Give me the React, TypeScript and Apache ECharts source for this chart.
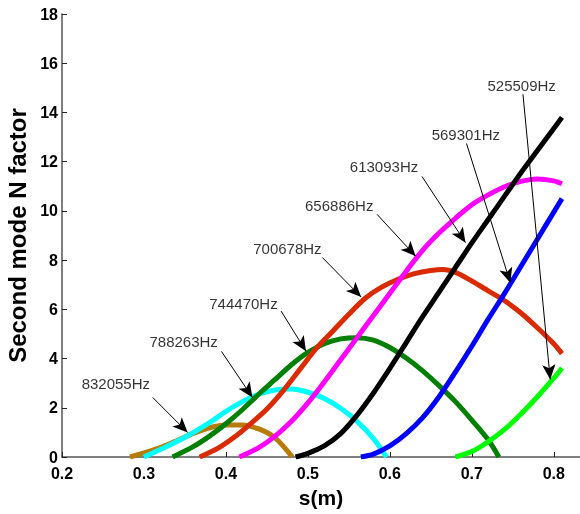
import React, { useEffect, useRef } from "react";
import * as echarts from "echarts";

// s (m), N factor pairs
const f832055: number[][] = [[0.283,0],[0.30,0.17],[0.32,0.38],[0.34,0.66],[0.36,0.96],[0.38,1.19],[0.40,1.3],[0.42,1.3],[0.44,1.14],[0.46,0.78],[0.481,0]];
const f788263: number[][] = [[0.30,0],[0.32,0.3],[0.35,0.8],[0.38,1.4],[0.40,1.85],[0.42,2.25],[0.44,2.55],[0.46,2.72],[0.48,2.76],[0.50,2.63],[0.52,2.38],[0.54,1.98],[0.56,1.45],[0.58,0.75],[0.596,0]];
const f744470: number[][] = [[0.335,0],[0.36,0.42],[0.38,0.85],[0.40,1.35],[0.42,1.92],[0.44,2.55],[0.46,3.15],[0.48,3.75],[0.50,4.25],[0.52,4.6],[0.54,4.8],[0.56,4.85],[0.58,4.75],[0.60,4.45],[0.62,4.02],[0.64,3.5],[0.66,2.9],[0.68,2.25],[0.70,1.5],[0.72,0.7],[0.733,0]];
const f700678: number[][] = [[0.368,0],[0.39,0.35],[0.41,0.8],[0.43,1.35],[0.45,1.95],[0.47,2.7],[0.49,3.55],[0.51,4.4],[0.53,5.1],[0.55,5.8],[0.57,6.45],[0.59,6.9],[0.61,7.22],[0.63,7.45],[0.65,7.58],[0.665,7.62],[0.68,7.5],[0.70,7.15],[0.72,6.75],[0.74,6.35],[0.76,5.85],[0.78,5.25],[0.80,4.6],[0.81,4.2]];
const f656886: number[][] = [[0.4165,0],[0.44,0.38],[0.46,0.85],[0.48,1.45],[0.50,2.2],[0.52,3.05],[0.54,3.95],[0.56,4.85],[0.58,5.75],[0.60,6.65],[0.62,7.55],[0.64,8.4],[0.66,9.1],[0.68,9.7],[0.70,10.25],[0.72,10.65],[0.74,10.98],[0.76,11.2],[0.78,11.3],[0.80,11.22],[0.81,11.1]];
const f613093: number[][] = [[0.485,0],[0.50,0.15],[0.52,0.45],[0.54,0.95],[0.56,1.7],[0.58,2.6],[0.60,3.6],[0.62,4.65],[0.64,5.7],[0.66,6.7],[0.68,7.7],[0.70,8.7],[0.72,9.65],[0.74,10.6],[0.76,11.55],[0.78,12.45],[0.80,13.35],[0.81,13.8]];
const f569301: number[][] = [[0.5646,0],[0.58,0.12],[0.60,0.45],[0.62,0.95],[0.64,1.6],[0.66,2.45],[0.68,3.45],[0.70,4.5],[0.72,5.6],[0.74,6.65],[0.76,7.75],[0.78,8.85],[0.80,9.95],[0.81,10.5]];
const f525509: number[][] = [[0.68,0],[0.70,0.22],[0.72,0.62],[0.74,1.12],[0.76,1.75],[0.78,2.45],[0.80,3.2],[0.81,3.62]];

const seriesNames = ["832055Hz","788263Hz","744470Hz","700678Hz","656886Hz","613093Hz","569301Hz","525509Hz"];
const seriesData = [f832055, f788263, f744470, f700678, f656886, f613093, f569301, f525509];
const seriesColors = ["#b67c07","#00ffff","#007f00","#d92a00","#ff00ff","#000000","#0000ff","#00ff00"];

// annotation label positions (data coords)
const labelPos: number[][] = [[0.2657,2.99],[0.3484,4.70],[0.4214,6.24],[0.475,8.48],[0.5382,10.22],[0.5929,11.81],[0.6927,13.11],[0.7608,15.10]];
// arrow start and tip (data coords)
const arrowStart: number[][] = [[0.3107,2.42],[0.3946,4.29],[0.4673,5.93],[0.5175,8.11],[0.5844,9.86],[0.6392,11.40],[0.6935,12.74],[0.7624,14.74]];
const arrowTip: number[][] = [[0.3533,0.996],[0.4324,2.42],[0.4977,4.3],[0.565,6.5],[0.6315,8.16],[0.6923,8.71],[0.747,7.08],[0.7957,3.15]];

const xTicks = { min: 0.2, max: 0.832, interval: 0.1 };
const yTicks = { min: 0, max: 18, interval: 2 };

export default function App() {
  const ref = useRef<HTMLDivElement>(null);
  useEffect(() => {
    if (!ref.current) return;
    const chart = echarts.init(ref.current, null, { renderer: "svg" });
    const font = "Arial, 'Liberation Sans', Helvetica, sans-serif";
    const lines = seriesData.map((d, i) => ({
      name: seriesNames[i],
      type: "line",
      data: d,
      smooth: 0.3,
      showSymbol: false,
      symbol: "none",
      lineStyle: { color: seriesColors[i], width: 5 },
      itemStyle: { color: seriesColors[i] },
      z: 2,
    }));
    chart.setOption({
      animation: false,
      grid: { left: 62, right: 0, top: 14, bottom: 57, containLabel: false, outerBoundsMode: "none" },
      xAxis: {
        type: "value",
        min: xTicks.min,
        max: xTicks.max,
        interval: xTicks.interval,
        name: "s(m)",
        nameLocation: "middle",
        nameGap: 30,
        nameTextStyle: { fontFamily: font, fontWeight: "bold", fontSize: 21, color: "#000" },
        axisLine: { lineStyle: { color: "#555", width: 1.5 } },
        axisTick: { inside: true, length: 5, lineStyle: { color: "#222" } },
        axisLabel: {
          fontFamily: font, fontWeight: "bold", fontSize: 16, color: "#000", margin: 8,
          showMaxLabel: false,
          formatter: (v: number) => v.toFixed(1),
        },
        splitLine: { show: false },
      },
      yAxis: {
        type: "value",
        min: yTicks.min,
        max: yTicks.max,
        interval: yTicks.interval,
        name: "Second mode N factor",
        nameLocation: "middle",
        nameGap: 24,
        nameTextStyle: { fontFamily: font, fontWeight: "bold", fontSize: 24, color: "#000" },
        axisLine: { show: true, lineStyle: { color: "#555", width: 1.5 } },
        axisTick: { show: true, inside: true, length: 5, lineStyle: { color: "#222" } },
        axisLabel: { fontFamily: font, fontWeight: "bold", fontSize: 16, color: "#000", margin: 4 },
        splitLine: { show: false },
      },
      series: [
        ...lines,
        {
          type: "scatter",
          data: seriesNames.map((n, i) => ({ name: n, value: labelPos[i] })),
          symbolSize: 0,
          silent: true,
          z: 5,
          label: {
            show: true,
            position: "inside",
            formatter: "{b}",
            fontFamily: font,
            fontSize: 15,
            color: "#000",
          },
          markLine: {
            silent: true,
            symbol: ["none", "arrow"],
            symbolSize: [10, 15],
            label: { show: false },
            lineStyle: { color: "#000", width: 1, type: "solid" },
            data: arrowStart.map((s, i) => [
              { coord: s },
              { coord: arrowTip[i] },
            ]),
          },
        },
      ],
    });
    return () => chart.dispose();
  }, []);
  return <div ref={ref} style={{ position: "fixed", left: 0, top: 0, width: 580, height: 514 }} />;
}
